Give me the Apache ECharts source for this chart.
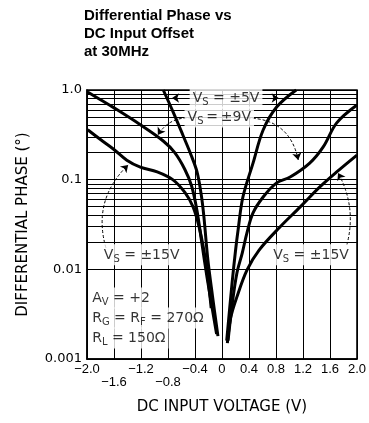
<!DOCTYPE html>
<html>
<head>
<meta charset="utf-8">
<script src="https://cdn.jsdelivr.net/npm/echarts@6/dist/echarts.min.js"></script>
<style>
  html, body { margin: 0; padding: 0; background: #fff; }
  #main { width: 369px; height: 423px; }
</style>
</head>
<body>
<div id="main"></div>
<script>
// curves: [dc input voltage (V), differential phase (deg)]
const vs5Left = [[-0.87, 1.0], [-0.72, 0.56], [-0.58, 0.315], [-0.46, 0.19], [-0.37, 0.122], [-0.31, 0.07], [-0.27, 0.04], [-0.21, 0.013], [-0.14, 0.005], [-0.06, 0.0018]];
const vs5Right = [[0.07, 0.0016], [0.15, 0.0071], [0.2, 0.016], [0.24, 0.028], [0.31, 0.064], [0.46, 0.153], [0.61, 0.358], [0.81, 0.646], [1.1, 1.0]];
const vs9Left = [[-1.99, 0.95], [-1.8, 0.78], [-1.61, 0.64], [-1.21, 0.41], [-0.87, 0.27], [-0.7, 0.2], [-0.55, 0.13], [-0.45, 0.085], [-0.37, 0.045], [-0.3, 0.02], [-0.22, 0.008], [-0.14, 0.0035], [-0.08, 0.0019]];
const vs9Right = [[0.09, 0.0016], [0.15, 0.004], [0.22, 0.009], [0.3, 0.0152], [0.37, 0.0255], [0.46, 0.0425], [0.61, 0.064], [0.81, 0.092], [1.01, 0.107], [1.3, 0.153], [1.5, 0.232], [1.7, 0.43], [2.0, 0.68]];
const vs15Left = [[-1.99, 0.36], [-1.8, 0.28], [-1.61, 0.22], [-1.41, 0.165], [-1.21, 0.138], [-0.96, 0.122], [-0.73, 0.1], [-0.55, 0.072], [-0.43, 0.05], [-0.34, 0.03], [-0.26, 0.015], [-0.2, 0.007], [-0.16, 0.0037]];
const vs15Right = [[0.08, 0.0015], [0.13, 0.0029], [0.22, 0.0049], [0.37, 0.0098], [0.55, 0.0164], [0.86, 0.0297], [1.16, 0.0497], [1.45, 0.083], [1.7, 0.122], [2.0, 0.188]];

const yTickLabels = ['0.001', '0.01', '0.1', '1.0'];
const yMinorLines = [0.002, 0.003, 0.004, 0.005, 0.006, 0.007, 0.008, 0.009,
  0.02, 0.03, 0.04, 0.05, 0.06, 0.07, 0.08, 0.09,
  0.2, 0.3, 0.4, 0.5, 0.6, 0.7, 0.8, 0.9];

const FONT = '"Liberation Sans", Arial, sans-serif';
const AXFONT = '"DejaVu Sans", sans-serif';

// text notes inside the plot (anchored in data coords)
const notes = [
  { at: [0.06, 0.81], text: '{n|V}{s|S}{n| = ±5V}', pos: 'inside' },
  { at: [-0.04, 0.5], text: '{n|V}{s|S}{n|\u2009=\u2009±9V}', pos: 'inside' },
  { at: [-1.19, 0.0145], text: '{n|V}{s|S}{n| = ±15V}', pos: 'inside' },
  { at: [1.32, 0.0145], text: '{n|V}{s|S}{n| = ±15V}', pos: 'inside' },
  { at: [-1.99, 0.0048], text: '{n|A}{s|V}{n| = +2}', pos: 'right' },
  { at: [-1.99, 0.00286], text: '{n|R}{s|G}{n| = R}{s|F}{n| = 270Ω}', pos: 'right' },
  { at: [-1.99, 0.00171], text: '{n|R}{s|L}{n| = 150Ω}', pos: 'right' }
];

// pointers from the notes to the curves
const pointers = [
  { coords: [[-0.5, 0.814], [-0.74, 0.814]], curve: 0, dashed: false },
  { coords: [[0.6, 0.814], [0.84, 0.814]], curve: 0, dashed: false },
  { coords: [[-0.45, 0.487], [-0.95, 0.315]], curve: -0.3, dashed: true },
  { coords: [[0.38, 0.487], [1.13, 0.166]], curve: 0.4, dashed: true },
  { coords: [[-1.72, 0.0174], [-1.39, 0.146]], curve: 0.3, dashed: true },
  { coords: [[1.85, 0.0187], [1.72, 0.119]], curve: -0.2, dashed: true }
];

const rich = {
  n: { fontSize: 14, fontFamily: AXFONT, color: '#000', lineHeight: 19, verticalAlign: 'middle' },
  s: { fontSize: 10, fontFamily: AXFONT, color: '#000', lineHeight: 19, verticalAlign: 'bottom' }
};

function curve(name, data) {
  return {
    name: name,
    type: 'line',
    data: data,
    smooth: 0.35,
    symbol: 'none',
    silent: true,
    z: 5,
    lineStyle: { color: '#000', width: 3 }
  };
}

const chart = echarts.init(document.getElementById('main'));

const option = {
  backgroundColor: '#fff',
  animation: false,
  title: {
    text: 'Differential Phase vs\nDC Input Offset\nat 30MHz',
    left: 79,
    top: 2,
    textStyle: { fontSize: 15, fontWeight: 'bold', fontFamily: FONT, color: '#000', lineHeight: 18 }
  },
  grid: { left: 87, right: 12, top: 90, bottom: 64, show: true, borderColor: '#000', borderWidth: 1.5 },
  xAxis: {
    type: 'value',
    min: -2,
    max: 2,
    interval: 0.4,
    name: 'DC INPUT VOLTAGE (V)',
    nameLocation: 'middle',
    nameGap: 41,
    nameTextStyle: { fontSize: 15, fontFamily: AXFONT, color: '#000' },
    axisLine: { show: true, onZero: false, lineStyle: { color: '#000', width: 1.5 } },
    axisTick: { show: true, inside: true, length: 4, lineStyle: { color: '#000' } },
    splitLine: { show: true, lineStyle: { color: '#000', width: 1 } },
    axisLabel: {
      margin: 4,
      fontSize: 13,
      lineHeight: 13,
      fontFamily: FONT,
      color: '#000',
      showMinLabel: true,
      showMaxLabel: true,
      hideOverlap: false,
      formatter: function (v) {
        if (Math.abs(v) < 1e-9) return '0';
        const s = v.toFixed(1).replace('-', '−');
        // -1.6 and -0.8 sit one row lower
        return (s === '−1.6' || s === '−0.8') ? '\n' + s : s;
      }
    }
  },
  yAxis: {
    type: 'log',
    logBase: 10,
    min: 0.001,
    max: 1,
    name: 'DIFFERENTIAL PHASE (°)',
    nameLocation: 'middle',
    nameGap: 56,
    nameTextStyle: { fontSize: 15, fontFamily: AXFONT, color: '#000' },
    axisLine: { show: true, onZero: false, lineStyle: { color: '#000', width: 1.5 } },
    axisTick: { show: false },
    splitLine: { show: true, lineStyle: { color: '#000', width: 1 } },
    axisLabel: {
      margin: 5,
      fontSize: 13,
      fontFamily: AXFONT,
      color: '#000',
      showMinLabel: true,
      showMaxLabel: true,
      hideOverlap: false,
      formatter: function (v) {
        return yTickLabels[Math.round(Math.log10(v)) + 3];
      }
    }
  },
  series: [
    {
      name: 'grid',
      type: 'line',
      data: [],
      silent: true,
      z: 1,
      markLine: {
        silent: true,
        z: 1,
        symbol: 'none',
        animation: false,
        label: { show: false },
        lineStyle: { color: '#000', width: 1, type: 'solid' },
        data: yMinorLines.map(function (v) { return { yAxis: v }; })
      }
    },
    curve('±5V left', vs5Left),
    curve('±5V right', vs5Right),
    curve('±9V left', vs9Left),
    curve('±9V right', vs9Right),
    curve('±15V left', vs15Left),
    curve('±15V right', vs15Right),
    {
      name: 'pointers',
      type: 'lines',
      coordinateSystem: 'cartesian2d',
      silent: true,
      z: 6,
      symbol: ['none', 'arrow'],
      symbolSize: 7,
      lineStyle: { color: '#000', width: 1, opacity: 1 },
      data: pointers.map(function (p) {
        return {
          coords: p.coords,
          lineStyle: { curveness: p.curve, type: p.dashed ? [3, 2] : 'solid' }
        };
      })
    },
    {
      name: 'notes',
      type: 'scatter',
      silent: true,
      z: 8,
      symbolSize: 1,
      itemStyle: { color: 'rgba(0,0,0,0)' },
      label: {
        show: true,
        backgroundColor: '#fff',
        padding: [1, 3, 1, 3],
        distance: 1,
        rich: rich
      },
      data: notes.map(function (d) {
        return { value: d.at, label: { position: d.pos, formatter: d.text } };
      })
    }
  ]
};

chart.setOption(option);
</script>
</body>
</html>
